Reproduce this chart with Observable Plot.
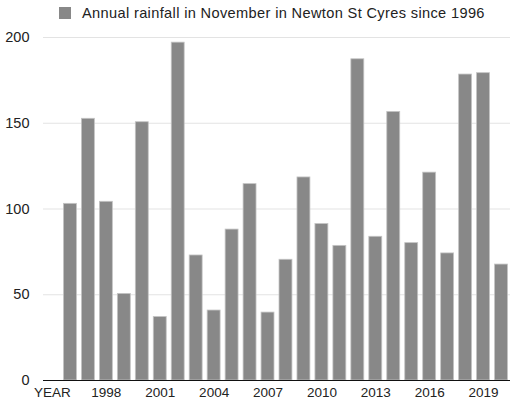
<!DOCTYPE html>
<html>
<head>
<meta charset="utf-8">
<script src="https://cdn.jsdelivr.net/npm/d3@7"></script>
<script src="https://cdn.jsdelivr.net/npm/@observablehq/plot@0.6"></script>
<style>
  html, body { margin: 0; padding: 0; background: #fff; overflow: hidden; }
  #wrap { position: relative; width: 510px; height: 401px; font-family: "Liberation Sans", Arial, Helvetica, sans-serif; }
  #legend { position: absolute; left: 59px; top: 5px; display: flex; align-items: center; font-size: 14.6px; letter-spacing: 0.35px; color: #222; white-space: nowrap; }
  #legend .sw { width: 12px; height: 12px; background: #888; margin-right: 11px; }
  #chart { position: absolute; left: 0; top: 0; width: 510px; height: 401px; }
</style>
</head>
<body>
<div id="wrap">
  <div id="chart"></div>
  <div id="legend"><span class="sw"></span><span>Annual rainfall in November in Newton St Cyres since 1996</span></div>
</div>
<script>
const seriesName = "Annual rainfall in November in Newton St Cyres since 1996";
const categories = ["YEAR", "1996", "1997", "1998", "1999", "2000", "2001", "2002", "2003", "2004", "2005", "2006", "2007", "2008", "2009", "2010", "2011", "2012", "2013", "2014", "2015", "2016", "2017", "2018", "2019", "2020"];
const rainfall = [null, 103, 152.6, 104.2, 50.5, 150.6, 37, 197, 72.9, 40.8, 88, 114.5, 39.6, 70.4, 118.4, 91.2, 78.5, 187.3, 83.8, 156.6, 80.1, 121.2, 74.1, 178.4, 179.2, 67.6];
const xTickLabels = ["YEAR", "1998", "2001", "2004", "2007", "2010", "2013", "2016", "2019"];
const yTicks = [0, 50, 100, 150, 200];

const data = categories.map((c, i) => ({category: c, value: rainfall[i]})).filter(d => d.value != null);

const chart = Plot.plot({
  width: 510,
  height: 401,
  marginLeft: 43,
  marginRight: 0,
  marginTop: 37,
  marginBottom: 21,
  style: {fontFamily: '"Liberation Sans", Arial, Helvetica, sans-serif', fontSize: "13px", color: "#222", background: "transparent"},
  x: {type: "band", domain: categories, paddingInner: 0.28, paddingOuter: 0.14, round: false, label: null},
  y: {domain: [0, 200], label: null},
  marks: [
    Plot.gridY(yTicks, {stroke: "#e3e3e3", strokeOpacity: 1, strokeWidth: 1.2}),
    Plot.barY(data, {x: "category", y: "value", fill: "#888", stroke: "#c4c4c4", strokeWidth: 0.8}),
    Plot.ruleY([0], {stroke: "#111", strokeWidth: 1.2}),
    Plot.axisY(yTicks, {tickSize: 0, tickPadding: 14, fontSize: 14.5, fill: "#222"}),
    Plot.axisX(xTickLabels, {tickSize: 0, tickPadding: 7, fontSize: 13.5, fill: "#222"})
  ]
});
document.getElementById("chart").appendChild(chart);
</script>
</body>
</html>
